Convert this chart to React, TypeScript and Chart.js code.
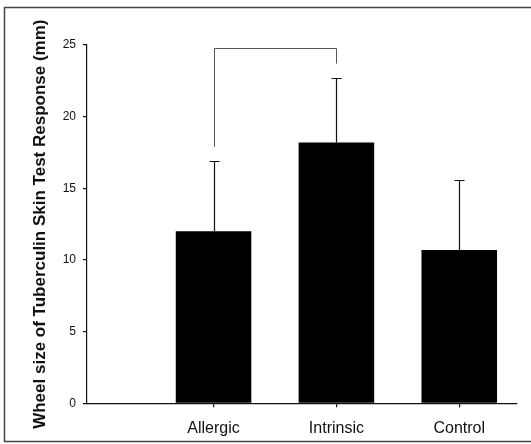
import React, { useEffect, useRef } from "react";
import { Chart, registerables } from "chart.js";

Chart.register(...registerables);

// ---- data ----
const categories = ["Allergic", "Intrinsic", "Control"];
const categoryPositions = [1, 2, 3];
const meanValues = [12.0, 18.2, 10.7];
const sdValues = [4.9, 4.5, 4.9];
const yTickValues = [0, 5, 10, 15, 20, 25];
const yAxisTitle = "Wheel size of Tuberculin Skin Test Response (mm)";
// significance bracket: between category index 0 and 1
const bracketCategories = [0, 1];
const bracketLegBottoms = [17.9, 23.7];
const bracketTop = 24.8;

const overlayPlugin = {
  id: "overlay",
  afterDatasetsDraw(chart: any) {
    const ctx = chart.ctx;
    const xs = chart.scales.x;
    const ys = chart.scales.y;
    ctx.save();
    // error bars (upper only)
    ctx.strokeStyle = "#111";
    ctx.lineWidth = 1.2;
    meanValues.forEach((m, i) => {
      const px = Math.round(xs.getPixelForValue(categoryPositions[i])) + 0.5;
      const base = ys.getPixelForValue(m);
      const top = Math.round(ys.getPixelForValue(m + sdValues[i])) + 0.5;
      ctx.beginPath();
      ctx.moveTo(px, base);
      ctx.lineTo(px, top);
      ctx.moveTo(px - 5, top);
      ctx.lineTo(px + 5, top);
      ctx.stroke();
    });
    // bracket
    ctx.strokeStyle = "#555";
    ctx.lineWidth = 1;
    const xl = Math.round(xs.getPixelForValue(categoryPositions[bracketCategories[0]])) + 0.5;
    const xr = Math.round(xs.getPixelForValue(categoryPositions[bracketCategories[1]])) + 0.5;
    const yt = Math.round(ys.getPixelForValue(bracketTop)) + 0.5;
    ctx.beginPath();
    ctx.moveTo(xl, ys.getPixelForValue(bracketLegBottoms[0]));
    ctx.lineTo(xl, yt);
    ctx.lineTo(xr, yt);
    ctx.lineTo(xr, ys.getPixelForValue(bracketLegBottoms[1]));
    ctx.stroke();
    ctx.restore();
  },
  afterDraw(chart: any) {
    const ctx = chart.ctx;
    const w = chart.width;
    ctx.save();
    ctx.strokeStyle = "#444";
    ctx.lineWidth = 1.5;
    ctx.beginPath();
    ctx.moveTo(w, 7.5);
    ctx.lineTo(4.5, 7.5);
    ctx.lineTo(4.5, 441.5);
    ctx.lineTo(w, 441.5);
    ctx.stroke();
    ctx.restore();
  },
};

export default function App() {
  const canvasRef = useRef<HTMLCanvasElement | null>(null);

  useEffect(() => {
    if (!canvasRef.current) return;
    Chart.defaults.font.family = "'Liberation Sans', Arial, sans-serif";
    Chart.defaults.color = "#111";
    const chart = new Chart(canvasRef.current, {
      type: "bar",
      data: {
        datasets: [
          {
            data: categoryPositions.map((p, i) => ({ x: p, y: meanValues[i] })),
            backgroundColor: "#000",
            borderWidth: 0,
            barPercentage: 0.615,
            categoryPercentage: 1,
          },
        ],
      },
      options: {
        responsive: false,
        animation: false,
        events: [],
        layout: { padding: { top: 45, right: 14, left: 0, bottom: 0 } },
        plugins: { legend: { display: false }, tooltip: { enabled: false } },
        scales: {
          x: {
            type: "linear",
            offset: false,
            min: -0.03,
            max: 3.47,
            afterBuildTicks: (s: any) => {
              s.ticks = categoryPositions.map((v) => ({ value: v }));
            },
            afterFit: (s: any) => {
              s.height = 40.7;
            },
            ticks: {
              autoSkip: false,
              maxRotation: 0,
              padding: 12,
              font: { size: 16 },
              color: "#111",
              callback: (v: any) => {
                const idx = categoryPositions.indexOf(Number(v));
                return idx >= 0 ? categories[idx] : "";
              },
            },
            grid: { offset: false, drawOnChartArea: false, tickLength: 4, color: "#111", lineWidth: 1.2 },
            border: { color: "#111", width: 1.2 },
          },
          y: {
            type: "linear",
            min: 0,
            max: 25,
            afterBuildTicks: (s: any) => {
              s.ticks = yTickValues.map((v) => ({ value: v }));
            },
            afterFit: (s: any) => {
              s.width = 87;
            },
            ticks: { padding: 7, font: { size: 12 }, color: "#111" },
            grid: { drawOnChartArea: false, tickLength: 4, color: "#111", lineWidth: 1.2 },
            border: { color: "#111", width: 1.2 },
            title: {
              display: true,
              text: yAxisTitle,
              font: { size: 17, weight: "bold" },
              color: "#111",
              padding: { top: 30, bottom: 0 },
            },
          },
        },
      },
      plugins: [overlayPlugin],
    } as any);
    return () => chart.destroy();
  }, []);

  return (
    <div style={{ position: "absolute", left: 0, top: 0, width: 531, height: 444, background: "#fff" }}>
      <canvas ref={canvasRef} width={531} height={444} style={{ display: "block" }} />
    </div>
  );
}
